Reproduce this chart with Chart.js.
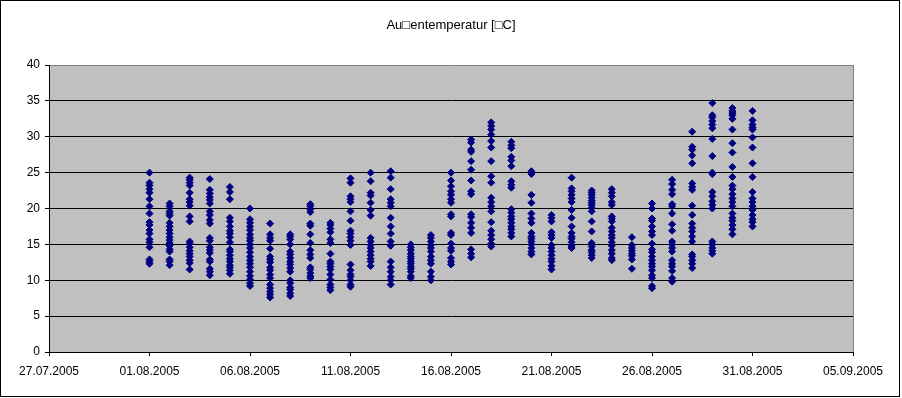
<!DOCTYPE html>
<html>
<head>
<meta charset="utf-8">
<script src="https://cdn.jsdelivr.net/npm/chart.js@4/dist/chart.umd.min.js"></script>
<style>
    body { margin: 0; background: #fff; }
    #wrap { width: 902px; height: 398px; }
</style>
</head>
<body>
<div id="wrap"><canvas id="chart" width="902" height="398"></canvas></div>
<script>
// x axis labels, one every 5 days starting 27.07.2005
const tickLabels = ["27.07.2005", "01.08.2005", "06.08.2005", "11.08.2005", "16.08.2005",
    "21.08.2005", "26.08.2005", "31.08.2005", "05.09.2005"];

// day offset of 01.08.2005 from 27.07.2005
const firstDay = 5;

// readings per day, 01.08. .. 31.08.
const temps = [
    [25.0, 23.6, 23.2, 22.7, 22.2, 21.3, 20.3, 19.3, 18.1, 17.7, 17.0, 16.5, 15.7, 15.3, 14.6, 12.9, 12.6, 12.3],
    [20.7, 20.3, 19.6, 19.3, 19.0, 18.0, 17.5, 17.0, 16.5, 16.0, 15.6, 15.2, 14.8, 14.3, 14.0, 12.9, 12.6, 12.1],
    [24.3, 24.0, 23.6, 23.2, 22.2, 21.3, 20.9, 20.4, 18.9, 18.2, 15.4, 15.1, 14.6, 14.1, 13.7, 13.3, 12.8, 12.4, 11.5],
    [24.1, 22.6, 22.1, 21.6, 21.2, 20.7, 19.6, 19.1, 18.4, 17.9, 15.9, 15.5, 14.6, 14.2, 13.8, 12.9, 12.6, 11.6, 11.2, 10.7],
    [23.0, 22.3, 21.3, 18.7, 18.2, 17.5, 16.9, 16.5, 16.0, 15.3, 14.3, 14.0, 13.5, 13.0, 12.6, 12.1, 11.8, 11.4, 10.9],
    [20.0, 18.5, 18.0, 17.5, 17.0, 16.4, 15.9, 15.5, 15.0, 14.5, 13.9, 13.3, 12.8, 12.3, 11.8, 11.2, 10.6, 10.1, 9.6, 9.2],
    [17.9, 16.4, 15.9, 15.5, 14.4, 13.3, 12.9, 12.5, 11.8, 11.4, 10.8, 10.3, 9.4, 8.9, 8.4, 8.0, 7.6],
    [16.4, 16.1, 15.7, 15.0, 14.0, 13.6, 13.1, 12.6, 12.2, 11.7, 11.2, 10.0, 9.6, 9.0, 8.7, 8.2, 7.8],
    [20.6, 20.3, 19.9, 19.5, 17.9, 17.6, 16.4, 15.2, 14.2, 13.6, 13.1, 11.8, 11.5, 11.0, 10.6, 10.3],
    [18.0, 17.7, 17.2, 16.7, 15.7, 15.2, 13.7, 12.6, 12.3, 11.9, 11.5, 10.8, 10.1, 9.4, 9.0, 8.6],
    [24.2, 23.6, 21.7, 21.3, 20.9, 19.6, 18.3, 16.9, 16.5, 16.0, 15.5, 14.9, 12.2, 11.4, 10.8, 10.5, 10.0, 9.4, 9.1],
    [25.0, 23.8, 22.2, 21.8, 20.8, 19.8, 19.0, 15.9, 15.4, 14.9, 14.5, 14.0, 13.5, 13.0, 12.6, 12.0],
    [25.2, 24.3, 22.7, 21.3, 20.8, 20.3, 18.7, 17.5, 16.5, 15.4, 14.8, 12.6, 11.8, 11.2, 10.5, 10.0, 9.4],
    [15.0, 14.6, 14.2, 13.7, 13.3, 13.0, 12.6, 12.3, 11.9, 11.6, 11.2, 10.6, 10.3],
    [16.3, 15.9, 15.4, 14.9, 14.5, 14.0, 13.3, 12.8, 12.3, 11.2, 10.5, 10.0],
    [25.0, 23.9, 23.1, 22.4, 21.9, 21.3, 20.8, 19.2, 18.9, 16.6, 16.3, 15.1, 14.5, 14.1, 13.1, 12.6, 12.2],
    [29.6, 29.2, 28.2, 27.9, 26.6, 25.4, 23.9, 22.4, 22.0, 19.2, 18.8, 18.0, 17.3, 16.6, 14.3, 13.7, 13.2],
    [32.0, 31.5, 31.0, 30.3, 29.4, 28.5, 26.6, 24.5, 23.6, 21.5, 20.9, 20.3, 19.6, 18.1, 16.9, 16.3, 15.7, 15.1, 14.7],
    [29.3, 28.8, 28.4, 27.2, 26.7, 25.9, 23.8, 23.3, 22.9, 19.9, 19.4, 18.9, 18.5, 18.0, 17.5, 17.1, 16.6, 16.1],
    [25.2, 24.8, 21.9, 20.8, 19.3, 18.6, 18.0, 16.6, 16.1, 15.8, 15.4, 15.0, 14.5, 14.0, 13.6],
    [19.1, 18.7, 18.2, 16.7, 16.3, 15.9, 14.9, 14.5, 14.0, 13.5, 13.0, 12.6, 12.0, 11.5],
    [24.3, 22.8, 22.4, 21.9, 21.4, 20.9, 19.8, 18.7, 17.5, 16.6, 16.1, 15.8, 15.3, 14.8, 14.5],
    [22.5, 22.2, 21.9, 21.5, 21.1, 20.8, 20.5, 20.1, 19.6, 18.2, 16.8, 15.2, 14.7, 14.2, 13.9, 13.5, 13.1],
    [22.7, 22.2, 21.7, 20.9, 20.5, 18.9, 18.6, 18.2, 17.3, 16.8, 16.3, 15.9, 15.3, 14.8, 14.2, 13.7, 13.1, 12.8],
    [16.0, 14.9, 14.5, 14.1, 13.7, 13.4, 12.9, 11.6],
    [20.7, 20.0, 18.6, 18.3, 17.5, 16.8, 16.3, 15.1, 14.3, 13.9, 13.3, 12.8, 12.3, 11.9, 11.4, 10.7, 10.3, 9.2, 8.9],
    [24.0, 23.4, 22.6, 22.0, 20.6, 20.3, 19.3, 17.8, 16.9, 15.4, 15.0, 14.5, 14.0, 12.8, 12.3, 11.9, 11.3, 10.3, 9.8],
    [30.7, 28.6, 28.2, 27.4, 26.3, 23.5, 23.0, 22.6, 20.4, 19.1, 17.9, 17.3, 16.8, 16.1, 15.4, 13.6, 13.3, 12.8, 12.3, 11.7],
    [34.7, 33.0, 32.7, 32.2, 31.7, 31.2, 29.7, 27.3, 25.0, 24.8, 22.3, 21.7, 21.0, 20.5, 20.0, 15.4, 15.0, 14.5, 14.1, 13.7],
    [34.0, 33.6, 33.3, 33.0, 32.5, 31.0, 29.1, 27.8, 25.8, 24.4, 23.2, 22.7, 22.0, 21.4, 20.9, 20.3, 19.3, 18.7, 18.3, 17.7, 17.1, 16.4],
    [33.6, 32.3, 31.7, 31.3, 31.0, 29.9, 28.5, 26.3, 24.4, 22.3, 21.4, 20.9, 20.3, 19.8, 19.1, 18.5, 18.1, 17.5]
];

const points = [];
temps.forEach((vals, i) => {
    vals.forEach(v => points.push({ x: firstDay + i, y: v }));
});

const fontFamily = "'Liberation Sans', Arial, 'DejaVu Sans', sans-serif";

// white page, outer frame, gray plot area, gray right border
const excelLook = {
    id: "excelLook",
    beforeDraw(chart) {
        const ctx = chart.ctx, a = chart.chartArea;
        ctx.save();
        ctx.fillStyle = "#ffffff";
        ctx.fillRect(0, 0, chart.width, chart.height);
        ctx.fillStyle = "#c0c0c0";
        ctx.fillRect(a.left, a.top, a.right - a.left, a.bottom - a.top);
        ctx.strokeStyle = "#000000";
        ctx.lineWidth = 1;
        ctx.strokeRect(0.5, 0.5, 899, 396);
        ctx.restore();
    },
    beforeDatasetsDraw(chart) {
        const ctx = chart.ctx, a = chart.chartArea;
        ctx.save();
        ctx.strokeStyle = "#808080";
        ctx.lineWidth = 1;
        ctx.beginPath();
        ctx.moveTo(Math.round(a.right) + 0.5, a.top);
        ctx.lineTo(Math.round(a.right) + 0.5, a.bottom);
        ctx.stroke();
        ctx.restore();
    }
};

new Chart(document.getElementById("chart"), {
    type: "scatter",
    data: {
        datasets: [{
            label: "Außentemperatur",
            data: points,
            pointStyle: "rectRot",
            pointRadius: 3.5,
            pointBorderWidth: 1,
            backgroundColor: "#000080",
            borderColor: "#000080"
        }]
    },
    options: {
        responsive: false,
        animation: false,
        layout: { padding: 0 },
        plugins: {
            legend: { display: false },
            tooltip: { enabled: false },
            title: {
                display: true,
                text: "Au\u25A1entemperatur [\u25A1C]",
                color: "#000000",
                font: { family: fontFamily, size: 13, weight: "normal" },
                padding: { top: 18, bottom: 31.4 }
            }
        },
        scales: {
            x: {
                type: "linear",
                min: 0,
                max: 40,
                afterFit: s => { s.height = 46; },
                ticks: {
                    stepSize: 5,
                    autoSkip: false,
                    maxRotation: 0,
                    padding: 8,
                    color: "#000000",
                    font: { family: fontFamily, size: 12 },
                    callback: v => tickLabels[v / 5]
                },
                grid: { drawOnChartArea: false, drawTicks: true, tickLength: 4, color: "#000000" },
                border: { color: "#000000", width: 1 }
            },
            y: {
                min: 0,
                max: 40,
                afterFit: s => { s.width = 49; },
                ticks: {
                    stepSize: 5,
                    padding: 5,
                    color: "#000000",
                    font: { family: fontFamily, size: 12 }
                },
                grid: {
                    color: c => (c.tick && c.tick.value === 40 ? "#808080" : "#000000"),
                    tickColor: "#000000",
                    tickLength: 4
                },
                border: { color: "#000000", width: 1 }
            },
            // empty right axis, only keeps the white margin right of the plot
            yRight: {
                position: "right",
                afterFit: s => { s.width = 49; },
                ticks: { display: false },
                grid: { display: false },
                border: { display: false }
            }
        }
    },
    plugins: [excelLook]
});
</script>
</body>
</html>
